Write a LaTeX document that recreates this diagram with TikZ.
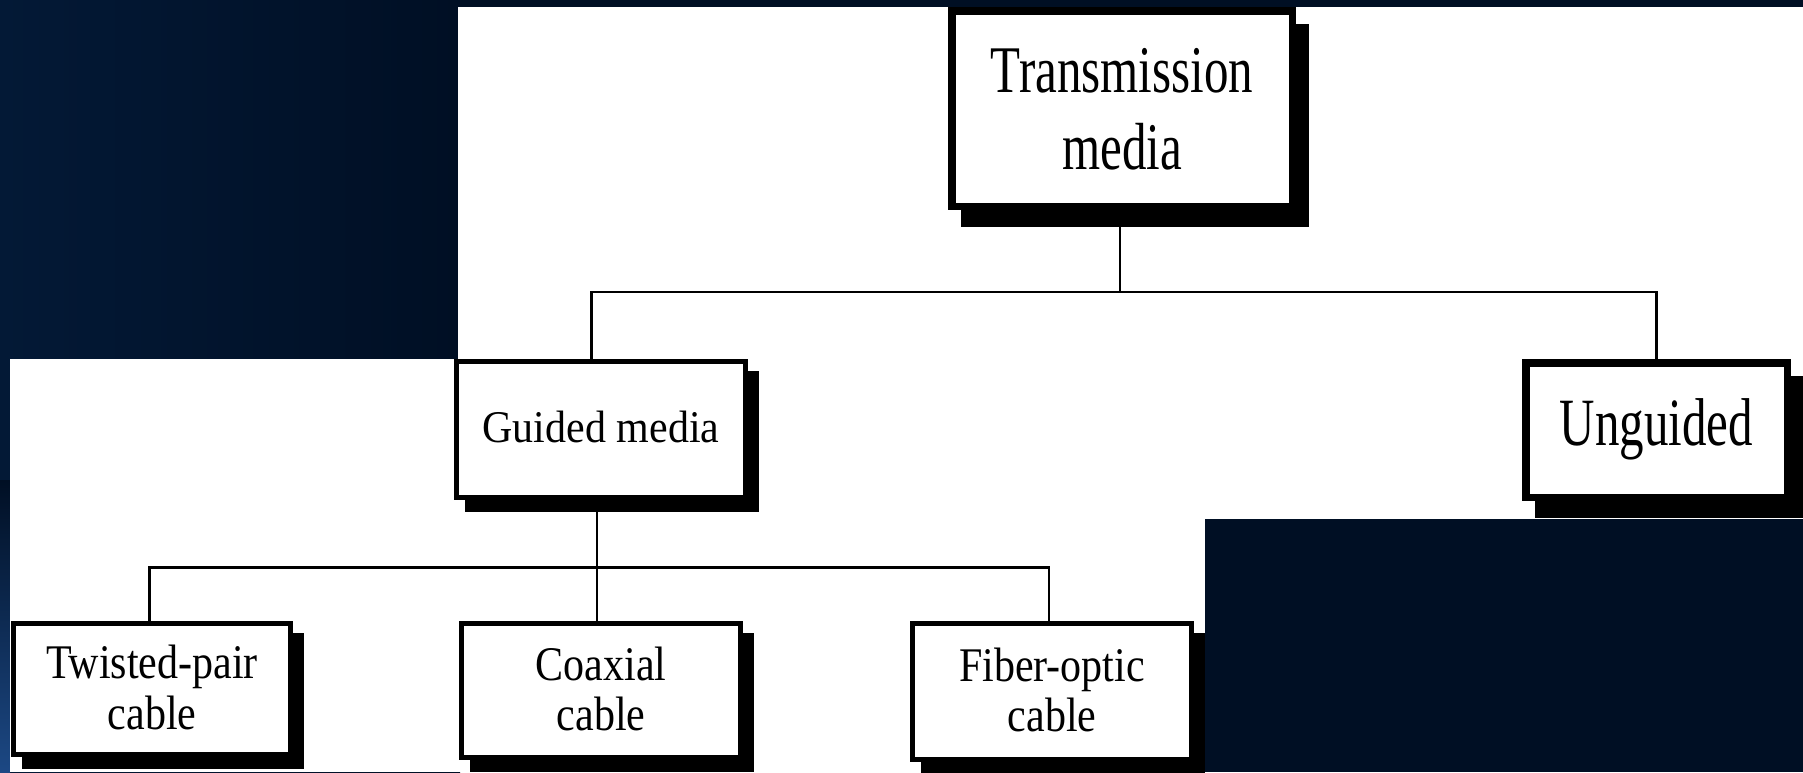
\documentclass[tikz,border=0pt]{standalone}
\usepackage{fontspec}
\usepackage{graphicx}
\setmainfont{Liberation Serif}
\usetikzlibrary{positioning}

\definecolor{navydark}{RGB}{0,15,36}
\definecolor{navylight}{RGB}{3,25,54}
\definecolor{navyglow}{RGB}{28,72,132}

% stretched text, as on the slide: #1 stretch, #2 lowering, #3 lines
\newcommand{\tallstack}[3]{\raisebox{-#2}[\height][\depth]{\scalebox{1}[#1]{\begin{tabular}{@{}c@{}}#3\end{tabular}}}}

\tikzset{
  bigbox/.style={draw=black, fill=white, inner sep=0pt, line width=7.5pt,
    font=\fontsize{49}{57}\selectfont,
    preaction={draw=black, fill=black, line width=7.5pt,
      transform canvas={xshift=13pt, yshift=-17pt}}},
  smallbox/.style={draw=black, fill=white, inner sep=0pt, line width=5pt,
    font=\fontsize{42}{44}\selectfont,
    preaction={draw=black, fill=black, line width=5pt,
      transform canvas={xshift=11pt, yshift=-12pt}}},
  wire/.style={draw=black, line width=2.5pt}
}

\begin{document}
\begin{tikzpicture}[x=1pt, y=-1pt]
			%%%%% BACKGROUND %%%%%
			\useasboundingbox (0,0) rectangle (1803,772);
			\fill[navydark] (0,0) rectangle (1803,772);
			\shade[left color=navylight, right color=navydark] (0,0) rectangle (460,772);
			\shade[top color=navydark, bottom color=navyglow] (0,480) rectangle (10,772);
			\fill[white] (458,7) rectangle (1803,519);
			\fill[white] (10,359) rectangle (1205,772);
			
			%%%%% BOXES %%%%%
			\node[bigbox, minimum width=340.5pt, minimum height=195.5pt] (tm) at (1122,108.5)
				{\tallstack{1.36}{7pt}{Transmission\\media}};
			\node[bigbox, minimum width=261.5pt, minimum height=134.5pt] (ug) at (1656.5,430)
				{\tallstack{1.38}{0pt}{Unguided}};
			\node[smallbox, minimum width=289pt, minimum height=136pt] (gm) at (601,429.5)
				{\tallstack{1.08}{3pt}{Guided media}};
			
			\node[smallbox, minimum width=277pt, minimum height=131pt] (tp) at (152,689)
				{\tallstack{1.15}{5pt}{Twisted-pair\\cable}};
			\node[smallbox, minimum width=279pt, minimum height=134pt] (cx) at (601,690.5)
				{\tallstack{1.15}{5pt}{Coaxial\\cable}};
			\node[smallbox, minimum width=279pt, minimum height=136pt] (fo) at (1052,691.5)
				{\tallstack{1.15}{5pt}{Fiber-optic\\cable}};
			
			%%%%% CONNECTORS %%%%%
			\coordinate (topbus) at (1120,292);
			\coordinate (lowbus) at (597,567.5);
			
			\draw[wire] (tm.south -| topbus) -- (topbus);
			\draw[wire] ([xshift=-9.5pt]gm.north) |- (topbus) -| (ug.north);
			
			\draw[wire] (gm.south -| lowbus) -- (cx.north -| lowbus);
			\draw[wire] ([xshift=-2.5pt]tp.north) |- (lowbus) -| ([xshift=-3pt]fo.north);
			
		\end{tikzpicture}
\end{document}
